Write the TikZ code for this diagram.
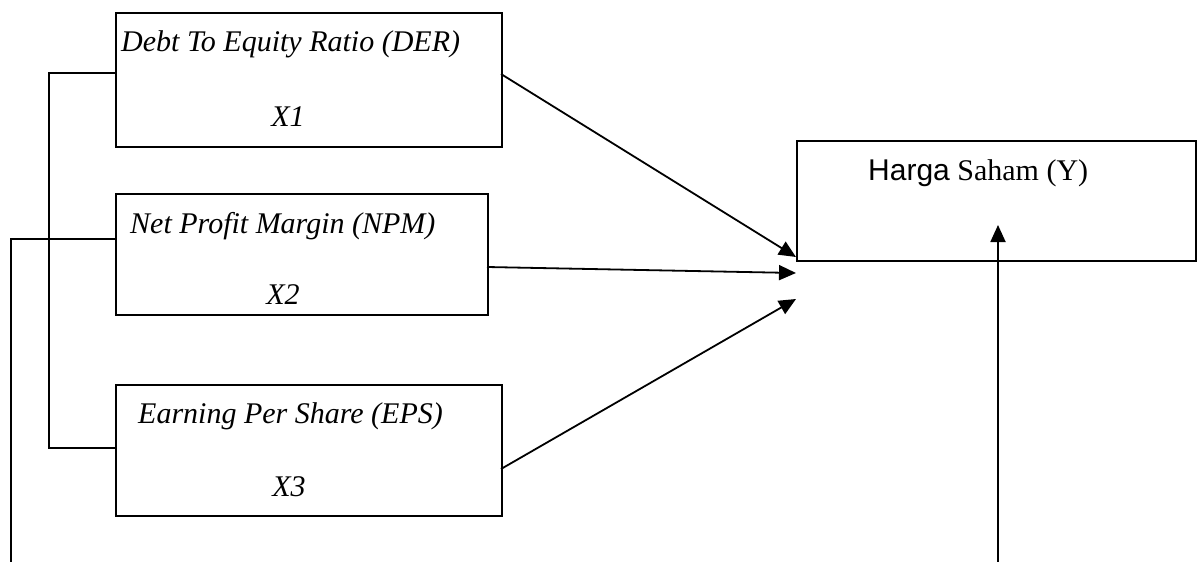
\documentclass[tikz,border=0pt]{standalone}
\usepackage{fontspec}
\setmainfont{Liberation Serif}
\newfontfamily\harfont{Liberation Sans}
\usetikzlibrary{arrows.meta}
\begin{document}
\begin{tikzpicture}[x=1pt,y=-1pt,
  box/.style={draw,line width=1.8pt,rectangle,inner sep=0pt,anchor=north west},
  lbl/.style={anchor=base west,inner sep=0pt,font=\fontsize{30}{34}\selectfont\itshape},
  clbl/.style={anchor=base,inner sep=0pt,font=\fontsize{30}{34}\selectfont\itshape},
  conn/.style={line width=1.8pt},
  arr/.style={line width=1.8pt,-{Triangle[length=17pt,width=15pt]}}]
\useasboundingbox[fill=white] (0,0) rectangle (1202,562);
% boxes
\node[box,minimum width=386pt,minimum height=134pt] (der) at (115,12) {};
\node[box,minimum width=372pt,minimum height=121pt] (npm) at (115,193) {};
\node[box,minimum width=386pt,minimum height=131pt] (eps) at (115,384) {};
\node[box,minimum width=399pt,minimum height=120pt] (y) at (796,140) {};
% texts
\node[lbl] (t1) at (121,51) {Debt To Equity Ratio (DER)};
\node[clbl] (x1) at (288,126) {X1};
\node[lbl] (t2) at (130,233) {Net Profit Margin (NPM)};
\node[clbl] (x2) at (283,304) {X2};
\node[lbl] (t3) at (138,423) {Earning Per Share (EPS)};
\node[clbl] (x3) at (289,496) {X3};
\node[anchor=base west,inner sep=0pt,font=\fontsize{30}{34}\selectfont] (ty) at (868,180) {{\harfont Harga} Saham (Y)};
% coordinates
\coordinate (d1) at (115,73);
\coordinate (bl) at (49,73);
\coordinate (e1) at (115,448);
\coordinate (n1) at (115,239);
\coordinate (nl) at (11,239);
\coordinate (nb) at (11,562);
\coordinate (dr) at (501,74);
\coordinate (dt) at (796,257);
\coordinate (nr) at (487,267);
\coordinate (nt) at (796,273);
\coordinate (er) at (501,469);
\coordinate (et) at (796,299);
\coordinate (yb) at (998,562);
\coordinate (yt) at (998,225);
% connectors
\draw[conn] (d1) -- (bl) |- (e1);
\draw[conn] (n1) -- (nl) -- (nb);
\draw[arr] (dr) -- (dt);
\draw[arr] (nr) -- (nt);
\draw[arr] (er) -- (et);
\draw[arr] (yb) -- (yt);
\end{tikzpicture}
\end{document}
